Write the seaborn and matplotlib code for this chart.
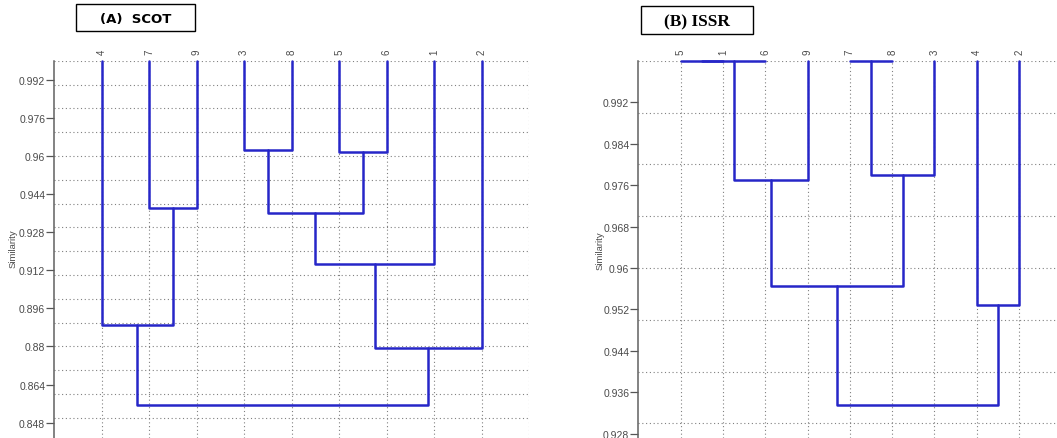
import numpy as np
import pandas as pd
import matplotlib
matplotlib.use("Agg")
import matplotlib.pyplot as plt
from matplotlib.patches import Rectangle
import seaborn as sns

# ---- data -------------------------------------------------------------
# leaf order along the top of each dendrogram
scot_leaves = ["4", "7", "9", "3", "8", "5", "6", "1", "2"]
issr_leaves = ["5", "1", "6", "9", "7", "8", "3", "4", "2"]

# agglomeration steps: (member a, member b, similarity); "cK" = cluster made at step K
scot_links = [
    ("7", "9", 0.938),
    ("3", "8", 0.9625),
    ("5", "6", 0.9615),
    ("c1", "c2", 0.936),
    ("c3", "1", 0.9145),
    ("4", "c0", 0.889),
    ("c4", "2", 0.8795),
    ("c5", "c6", 0.8555),
]
issr_links = [
    ("5", "1", 1.0),
    ("c0", "6", 1.0),
    ("c1", "9", 0.9769),
    ("7", "8", 1.0),
    ("c3", "3", 0.9779),
    ("c2", "c4", 0.9565),
    ("4", "2", 0.9528),
    ("c5", "c6", 0.9336),
]

# y-axis tick values
scot_yticks = [0.848, 0.864, 0.88, 0.896, 0.912, 0.928, 0.944, 0.96, 0.976, 0.992]
issr_yticks = [0.928, 0.936, 0.944, 0.952, 0.96, 0.968, 0.976, 0.984, 0.992]

TOP = 1.0


def dendro_segments(leaves, links, top):
    """Turn a linkage list into U-shaped polylines (one unit per merge)."""
    pos = {lab: i + 1 for i, lab in enumerate(leaves)}
    hgt = {lab: top for lab in leaves}
    rows = []
    for k, (a, b, h) in enumerate(links):
        xa, xb = pos[a], pos[b]
        rows += [(k, xa, hgt[a]), (k, xa, h), (k, xb, h), (k, xb, hgt[b])]
        pos[f"c{k}"] = (xa + xb) / 2
        hgt[f"c{k}"] = h
    return pd.DataFrame(rows, columns=["seg", "x", "y"])


def fmt(v):
    return f"{v:.3f}".rstrip("0")


sns.set_theme(style="white")
plt.rcParams["font.family"] = ["Liberation Sans", "DejaVu Sans"]

W, H = 1057, 439
fig = plt.figure(figsize=(W / 100, H / 100), dpi=100)
ax_top = 61.7
ax1 = fig.add_axes([54.2 / W, 0, 474.8 / W, 1 - ax_top / H])
ax2 = fig.add_axes([638.4 / W, 0, 423.0 / W, 1 - ax_top / H])

LINE = "#2626c8"
GRID = "#808080"
TXT = "#4a4a4a"

panels = [
    (ax1, scot_leaves, scot_links, scot_yticks, 0.84156),
    (ax2, issr_leaves, issr_links, issr_yticks, 0.9272),
]

for ax, leaves, links, yticks, ybot in panels:
    seg = dendro_segments(leaves, links, TOP)
    sns.lineplot(data=seg, x="x", y="y", units="seg", estimator=None, sort=False,
                 color=LINE, lw=1.8, ax=ax, legend=False, clip_on=False,
                 zorder=3)

    ax.set_xlim(0, 10)
    ax.set_ylim(ybot, TOP)

    # leaf names on top
    ax.xaxis.tick_top()
    ax.set_xticks(np.arange(1, len(leaves) + 1), leaves, rotation=90)
    ax.set_xticks(np.arange(1, 11), minor=True)
    ax.tick_params(axis="x", which="major", length=0, pad=4.6,
                   labelsize=7, labelcolor=TXT)
    ax.tick_params(axis="x", which="minor", length=0)

    # similarity ticks on the left, grid every 0.01
    ax.set_yticks(yticks, [fmt(v) for v in yticks])
    ax.set_yticks(np.arange(np.ceil(ybot * 100) / 100, TOP + 1e-9, 0.01), minor=True)
    ax.tick_params(axis="y", which="major", left=True, length=5.5, width=0.9,
                   color="#555555", pad=1, labelsize=7.5, labelcolor=TXT)
    ax.tick_params(axis="y", which="minor", left=False, length=0)
    ax.xaxis.remove_overlapping_locs = False
    ax.yaxis.remove_overlapping_locs = False

    ax.grid(False)
    ax.grid(which="minor", color=GRID, lw=0.8, linestyle=(0, (1, 2.4)))

    for side in ("top", "right", "bottom"):
        ax.spines[side].set_visible(False)
    ax.spines["left"].set_color("#606060")
    ax.spines["left"].set_linewidth(1.1)
    ax.set_xlabel("")
    ax.set_ylabel("")

# axis titles
fig.text(13 / W, 1 - 249 / H, "Similarity", rotation=90, ha="center", va="center",
         fontsize=6.8, color=TXT)
fig.text(600.5 / W, 1 - 251 / H, "Similarity", rotation=90, ha="center", va="center",
         fontsize=6.8, color=TXT)

# boxed panel headings
for (x0, y0, x1, y1), label, fam, size in [
    ((76, 5, 195, 32), "(A)  SCOT", ["DejaVu Sans"], 9.5),
    ((640.7, 6.7, 753, 35), "(B) ISSR", ["Liberation Serif"], 12.5),
]:
    fig.patches.append(Rectangle((x0 / W, 1 - y1 / H), (x1 - x0) / W, (y1 - y0) / H,
                                 transform=fig.transFigure, fill=False,
                                 edgecolor="black", lw=1.0))
    fig.text((x0 + x1) / 2 / W, 1 - (y0 + y1) / 2 / H, label, ha="center",
             va="center_baseline", fontsize=size, fontweight="bold",
             family=fam, color="black")

fig.savefig("out.png", dpi=100)
